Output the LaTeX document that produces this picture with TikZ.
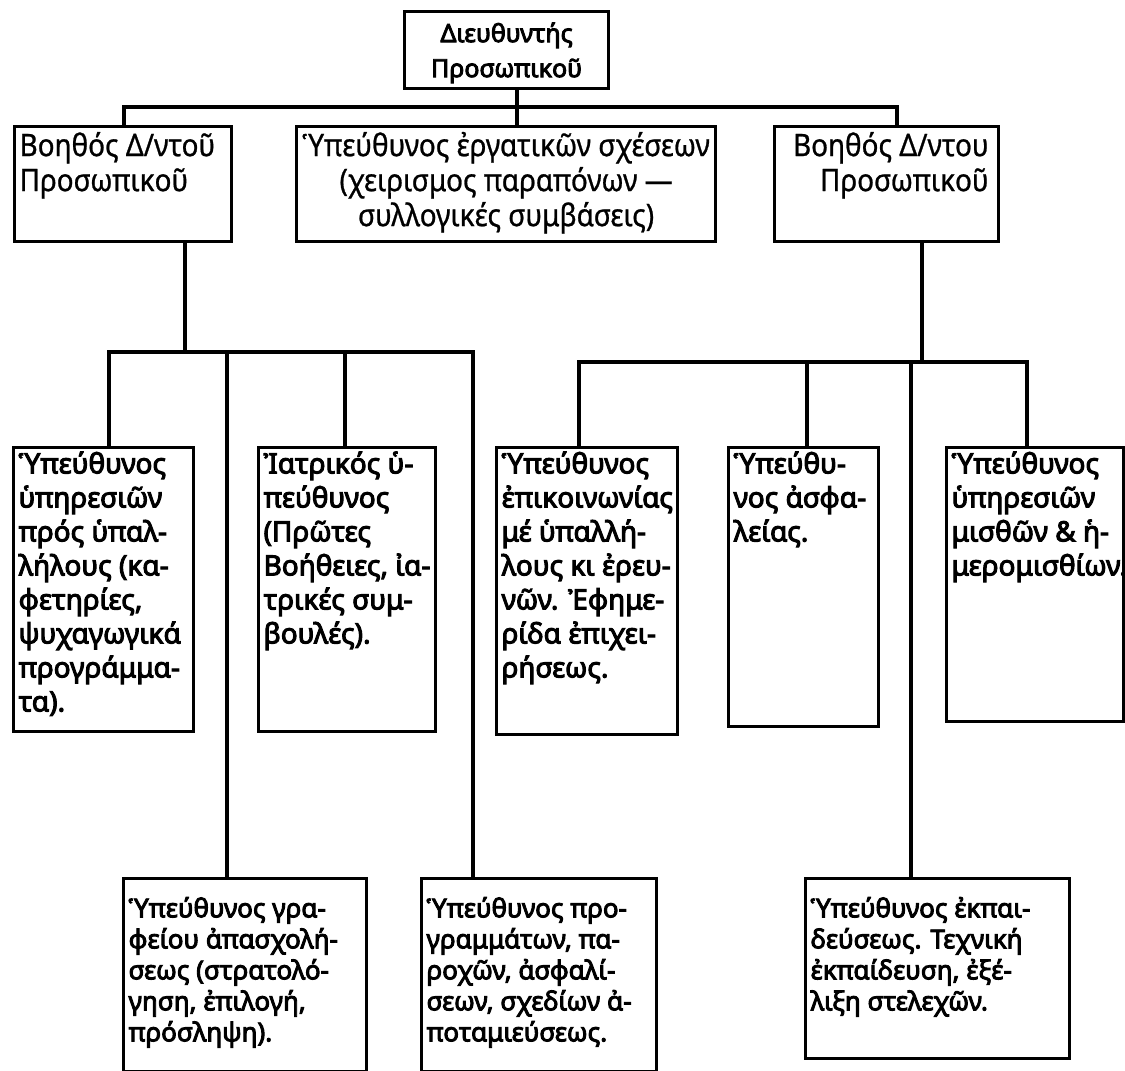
\documentclass[tikz,border=0pt]{standalone}
\usepackage{fontspec}
\newfontfamily\gbold[FakeBold=3.6]{Noto Sans}
\newfontfamily\gnarrow[FakeStretch=0.9,FakeBold=0.8]{Noto Sans}
\newcommand{\btl}[4]{\parbox[c][#2][t]{#1}{\vspace*{#3}\hspace*{5pt}\begin{tabular}[t]{@{}l@{}}#4\end{tabular}}}
\newcommand{\btc}[4]{\parbox[c][#2][t]{#1}{\vspace*{#3}\centering\begin{tabular}[t]{@{}c@{}}#4\end{tabular}\par}}
\newcommand{\btr}[4]{\parbox[c][#2][t]{#1}{\vspace*{#3}\hfill\begin{tabular}[t]{@{}r@{}}#4\end{tabular}\hspace*{10pt}}}
\tikzset{
  box/.style={draw, line width=3.2pt, inner sep=0pt, anchor=north west},
  topf/.style={font=\gbold\fontsize{25}{35}\selectfont},
  midf/.style={font=\gnarrow\fontsize{31}{35}\selectfont},
  lowf/.style={font=\gbold\fontsize{28}{34}\selectfont},
  botf/.style={font=\gbold\fontsize{26}{31}\selectfont},
  ln/.style={line width=3.2pt}
}
\begin{document}
\begin{tikzpicture}[x=1pt,y=-1pt]
\fill[white] (0,0) rectangle (1125,1071);
\useasboundingbox (0,0) rectangle (1125,1071);
% level 1
\node[box,topf] (T) at (403,10) {\btc{204pt}{77pt}{6pt}{Διευθυντής\\Προσωπικοῦ}};
% level 2
\node[box,midf] (L) at (13,125) {\btl{217pt}{115pt}{5pt}{Βοηθός Δ/ντοῦ\\Προσωπικοῦ}};
\node[box,midf] (M) at (295,125) {\btc{419pt}{115pt}{5pt}{Ὑπεύθυνος ἐργατικῶν σχέσεων\\(χειρισμος παραπόνων —\\συλλογικές συμβάσεις)}};
\node[box,midf] (R) at (773,125) {\btr{224pt}{115pt}{5pt}{Βοηθός Δ/ντου\\Προσωπικοῦ}};
% level 3
\node[box,lowf] (A) at (12,446) {\btl{180pt}{284pt}{2pt}{Ὑπεύθυνος\\ὑπηρεσιῶν\\πρός ὑπαλ-\\λήλους (κα-\\φετηρίες,\\ψυχαγωγικά\\προγράμμα-\\τα).}};
\node[box,lowf] (B) at (257,446) {\btl{177pt}{284pt}{2pt}{Ἰατρικός ὑ-\\πεύθυνος\\(Πρῶτες\\Βοήθειες, ἰα-\\τρικές συμ-\\βουλές).}};
\node[box,lowf] (C) at (495,446) {\btl{181pt}{287pt}{2pt}{Ὑπεύθυνος\\ἐπικοινωνίας\\μέ ὑπαλλή-\\λους κι ἐρευ-\\νῶν. Ἐφημε-\\ρίδα ἐπιχει-\\ρήσεως.}};
\node[box,lowf] (D) at (727,446) {\btl{150pt}{279pt}{2pt}{Ὑπεύθυ-\\νος ἀσφα-\\λείας.}};
\node[box,lowf] (E) at (945,446) {\btl{177pt}{274pt}{2pt}{Ὑπεύθυνος\\ὑπηρεσιῶν\\μισθῶν \& ἡ-\\μερομισθίων.}};
% level 4
\node[box,botf] (F) at (122,877) {\btl{243pt}{193pt}{17pt}{Ὑπεύθυνος γρα-\\φείου ἀπασχολή-\\σεως (στρατολό-\\γηση, ἐπιλογή,\\πρόσληψη).}};
\node[box,botf] (G) at (420,877) {\btl{235pt}{193pt}{17pt}{Ὑπεύθυνος προ-\\γραμμάτων, πα-\\ροχῶν, ἀσφαλί-\\σεων, σχεδίων ἀ-\\ποταμιεύσεως.}};
\node[box,botf] (H) at (804,877) {\btl{264pt}{180pt}{17pt}{Ὑπεύθυνος ἐκπαι-\\δεύσεως. Τεχνική\\ἐκπαίδευση, ἐξέ-\\λιξη στελεχῶν.}};
% junction points
\coordinate (t1) at (124,107);
\coordinate (t2) at (517,107);
\coordinate (t3) at (897,107);
\coordinate (lj) at (185,352);
\coordinate (l1) at (109,352);
\coordinate (l2) at (227,352);
\coordinate (l3) at (345,352);
\coordinate (l4) at (473,352);
\coordinate (rj) at (922,362);
\coordinate (r1) at (579,362);
\coordinate (r2) at (807,362);
\coordinate (r3) at (911,362);
\coordinate (r4) at (1027,362);
% connectors
\draw[ln] (T.south -| t2) -- (M.north -| t2);
\draw[ln] (L.north -| t1) -- (t1) -- (t3) -- (R.north -| t3);
\draw[ln] (L.south -| lj) -- (lj);
\draw[ln] (A.north -| l1) -- (l1) -- (l4) -- (G.north -| l4);
\draw[ln] (l2) -- (F.north -| l2);
\draw[ln] (l3) -- (B.north -| l3);
\draw[ln] (R.south -| rj) -- (rj);
\draw[ln] (C.north -| r1) -- (r1) -- (r4) -- (E.north -| r4);
\draw[ln] (r2) -- (D.north -| r2);
\draw[ln] (r3) -- (H.north -| r3);
\end{tikzpicture}
\end{document}
